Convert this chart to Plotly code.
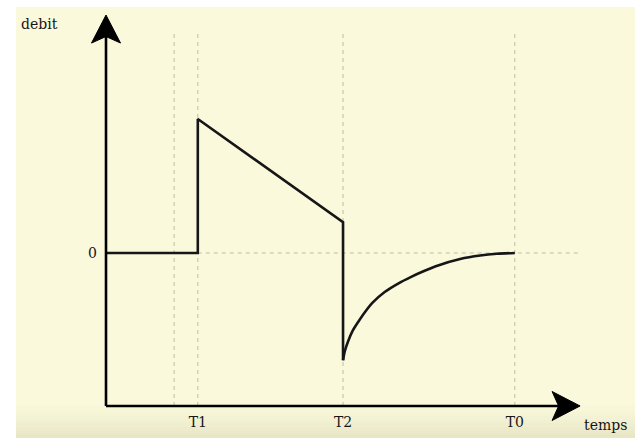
import plotly.graph_objects as go

# Flow (debit) against time: step up at T1, linear ramp down, drop at T2
t_main = [0.0, 2.25, 2.25, 5.81, 5.81]
debit_main = [0.0, 0.0, 1.0, 0.23, -0.80]

# Recovery after T2, climbing back to zero by T0
t_recovery = [5.81, 5.85, 5.93, 6.05, 6.18, 6.34, 6.54, 6.83, 7.16, 7.48,
              7.81, 8.14, 8.68, 9.17, 9.58, 10.02]
debit_recovery = [-0.80, -0.736, -0.662, -0.578, -0.515, -0.444, -0.369, -0.291,
                  -0.228, -0.178, -0.133, -0.093, -0.045, -0.019, -0.006, 0.0]

tick_times = [2.25, 5.81, 10.02]
tick_labels = ["T1", "T2", "T0"]
guide_times = [1.67, 2.25, 5.81, 10.02]

# Figure geometry
W, H = 635, 438
M_L, M_T = 16, 7
X_RANGE = [-2.206, 12.966]
Y_RANGE = [-1.381, 1.836]
AXIS_Y = -1.142          # level of the time axis
X_END = 11.62            # tip of the time arrow
Y_END = 1.776            # tip of the flow arrow
GUIDE_TOP = 1.642

px_x = (W - M_L) / (X_RANGE[1] - X_RANGE[0])   # pixels per time unit
px_y = (H - M_T) / (Y_RANGE[1] - Y_RANGE[0])   # pixels per flow unit

FONT = "DejaVu Serif"
INK = "#161616"
GUIDE = "rgba(170,168,150,0.75)"
BG = "#faf9dc"
TEXT = dict(family=FONT, size=14, color=INK)

fig = go.Figure()

fig.add_trace(go.Scatter(
    x=t_main, y=debit_main, mode="lines",
    line=dict(color=INK, width=2.6), hoverinfo="skip", showlegend=False,
))
fig.add_trace(go.Scatter(
    x=t_recovery, y=debit_recovery, mode="lines",
    line=dict(color=INK, width=2.6, shape="spline", smoothing=0.6),
    hoverinfo="skip", showlegend=False,
))

shapes = []

# soft darkening toward the bottom edge
n_strips = 10
for i in range(n_strips):
    y0 = (i / n_strips) * 0.085
    y1 = ((i + 1) / n_strips) * 0.085
    shapes.append(dict(
        type="rect", xref="paper", yref="paper", x0=0, x1=1, y0=y0, y1=y1,
        fillcolor="rgba(140,135,80,%.3f)" % (0.16 * (1 - i / n_strips) ** 1.5),
        line=dict(width=0), layer="below",
    ))

# dashed guides
for t in guide_times:
    shapes.append(dict(
        type="line", x0=t, x1=t, y0=AXIS_Y, y1=GUIDE_TOP,
        line=dict(color=GUIDE, width=1, dash="4px,4px"), layer="below",
    ))
shapes.append(dict(
    type="line", x0=tick_times[0], x1=X_END, y0=0, y1=0,
    line=dict(color=GUIDE, width=1, dash="4px,4px"), layer="below",
))

# axes lines
shapes.append(dict(type="line", x0=0, x1=X_END - 20 / px_x, y0=AXIS_Y, y1=AXIS_Y,
                   line=dict(color="black", width=2.6)))
shapes.append(dict(type="line", x0=0, x1=0, y0=AXIS_Y, y1=Y_END - 20 / px_y,
                   line=dict(color="black", width=2.6)))

# arrow heads (length, half width, notch depth in pixels)
L, HW, N = 28, 14.5, 6.5
shapes.append(dict(
    type="path",
    path="M {0},{1} L {2},{3} L {4},{1} L {2},{5} Z".format(
        X_END, AXIS_Y, X_END - L / px_x, AXIS_Y + HW / px_y,
        X_END - (L - N) / px_x, AXIS_Y - HW / px_y),
    fillcolor="black", line=dict(color="black", width=1),
))
shapes.append(dict(
    type="path",
    path="M {0},{1} L {2},{3} L {0},{4} L {5},{3} Z".format(
        0, Y_END, HW / px_x, Y_END - L / px_y, Y_END - (L - N) / px_y, -HW / px_x),
    fillcolor="black", line=dict(color="black", width=1),
))

annotations = [
    dict(x=-1.62, y=1.71, text="debit", showarrow=False, font=TEXT,
         xanchor="center", yanchor="middle"),
    dict(x=12.25, y=-1.284, text="temps", showarrow=False, font=TEXT,
         xanchor="center", yanchor="middle"),
]

fig.update_layout(
    width=W, height=H,
    margin=dict(l=M_L, r=0, t=M_T, b=0),
    paper_bgcolor="white",
    plot_bgcolor=BG,
    shapes=shapes,
    annotations=annotations,
    xaxis=dict(
        range=X_RANGE, showgrid=False, zeroline=False, showline=False,
        tickvals=tick_times, ticktext=tick_labels, ticks="",
        anchor="free", position=(H - ((Y_RANGE[1] - AXIS_Y) * px_y + M_T)) / (H - M_T),
        tickfont=TEXT, ticklabelstandoff=6,
        fixedrange=True,
    ),
    yaxis=dict(
        range=Y_RANGE, showgrid=False, zeroline=False, showline=False,
        tickvals=[0], ticktext=["0"], ticks="",
        anchor="free", position=(0 - X_RANGE[0]) * px_x / (W - M_L),
        tickfont=TEXT, ticklabelstandoff=9,
        fixedrange=True,
    ),
)

fig.write_html("out.html")
